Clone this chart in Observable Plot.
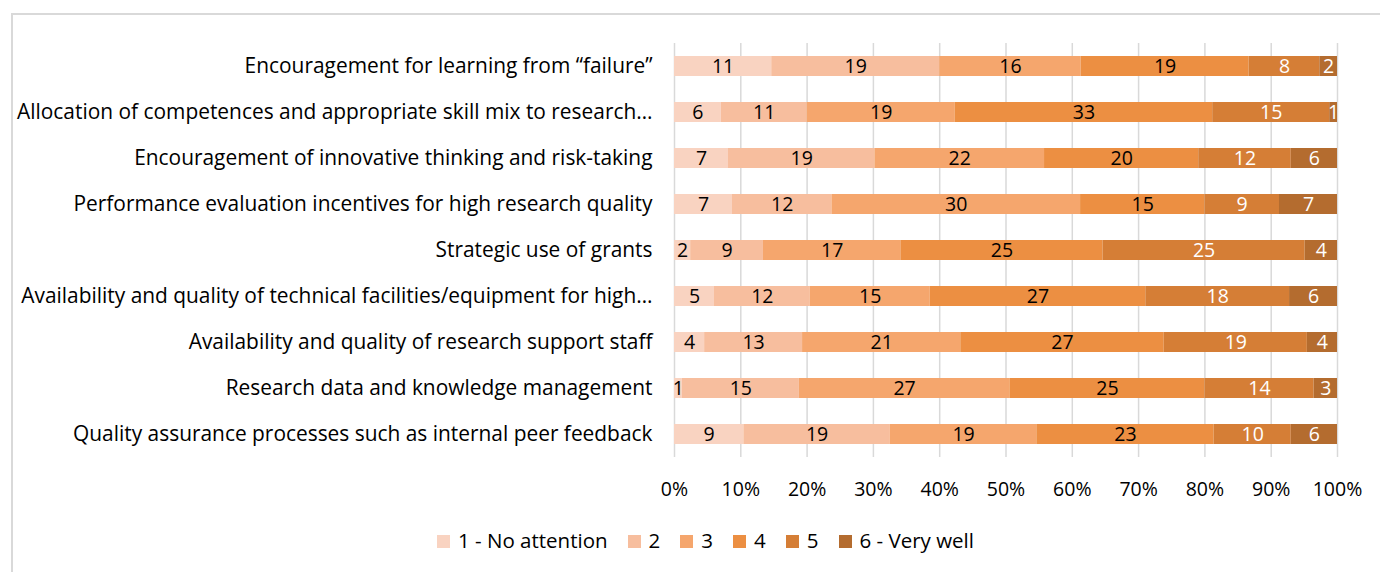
<!DOCTYPE html>
<html><head><meta charset="utf-8">
<script src="https://cdn.jsdelivr.net/npm/d3@7"></script>
<script src="https://cdn.jsdelivr.net/npm/@observablehq/plot@0.6"></script>
<style>
body{margin:0;background:#fff;font-family:"Open Sans",sans-serif;}
#wrap{position:relative;width:1380px;height:572px;overflow:hidden;}
#frame{position:absolute;left:11px;top:13px;width:1400px;height:600px;border-left:2px solid #d9d9d9;border-top:2px solid #d9d9d9;}
#chart{position:absolute;left:0;top:0;}
#legend{position:absolute;top:526px;left:0;width:1411px;text-align:center;font-size:20.5px;color:#000;white-space:nowrap;}
#legend span.item{display:inline-block;margin:0 10px;}
#legend span.sw{display:inline-block;width:13px;height:13px;margin-right:8px;vertical-align:0px;}
</style></head>
<body><div id="wrap"><div id="frame"></div><div id="chart"></div><div id="legend"></div></div>
<script>
const questions = [
  "Encouragement for learning from \u201cfailure\u201d",
  "Allocation of competences and appropriate skill mix to research\u2026",
  "Encouragement of innovative thinking and risk-taking",
  "Performance evaluation incentives for high research quality",
  "Strategic use of grants",
  "Availability and quality of technical facilities/equipment for high\u2026",
  "Availability and quality of research support staff",
  "Research data and knowledge management",
  "Quality assurance processes such as internal peer feedback"
];
const levels = ["1 - No attention", "2", "3", "4", "5", "6 - Very well"];
const levelColors = ["#f9d3c1", "#f7be9e", "#f5a66d", "#ec8f42", "#d57e36", "#b46c2f"];
const level1 = [11, 6, 7, 7, 2, 5, 4, 1, 9];
const level2 = [19, 11, 19, 12, 9, 12, 13, 15, 19];
const level3 = [16, 19, 22, 30, 17, 15, 21, 27, 19];
const level4 = [19, 33, 20, 15, 25, 27, 27, 25, 23];
const level5 = [8, 15, 12, 9, 25, 18, 19, 14, 10];
const level6 = [2, 1, 6, 7, 4, 6, 4, 3, 6];
const ticks = [0, 0.1, 0.2, 0.3, 0.4, 0.5, 0.6, 0.7, 0.8, 0.9, 1];

const series = [level1, level2, level3, level4, level5, level6];
const data = [];
questions.forEach((q, i) => series.forEach((s, j) => data.push({question: q, level: levels[j], li: j, value: s[i]})));

const stackOpts = {x: "value", y: "question", z: "level", order: levels, offset: "normalize"};
const chart = Plot.plot({
  width: 1380, height: 510,
  marginLeft: 674, marginRight: 43, marginTop: 43, marginBottom: 53,
  style: {fontFamily: "Open Sans, sans-serif", fontSize: "19.5px", color: "#000", background: "transparent"},
  x: {domain: [0, 1], ticks: ticks, tickFormat: d => Math.round(d * 100) + "%", tickSize: 0, tickPadding: 25, label: null},
  y: {domain: questions, paddingInner: 0.565, paddingOuter: 0.2825, tickSize: 0, tickPadding: 22, label: null},
  color: {domain: levels, range: levelColors},
  marks: [
    Plot.ruleX(ticks, {stroke: "#d9d9d9", strokeWidth: 1.5}),
    Plot.barX(data, Plot.stackX({...stackOpts, fill: "level"})),
    Plot.textX(data, Plot.stackX({...stackOpts, text: d => d.li < 4 ? d.value : null, fill: "#000", fontSize: 19.5})),
    Plot.textX(data, Plot.stackX({...stackOpts, text: d => d.li >= 4 ? d.value : null, fill: "#fff", fontSize: 19.5})),
    Plot.axisY({tickSize: 0, tickPadding: 22, fontSize: 20.9, label: null})
  ]
});
document.getElementById("chart").appendChild(chart);

const leg = document.getElementById("legend");
levels.forEach((l, j) => {
  const it = document.createElement("span"); it.className = "item";
  const sw = document.createElement("span"); sw.className = "sw"; sw.style.background = levelColors[j];
  it.appendChild(sw); it.appendChild(document.createTextNode(l)); leg.appendChild(it);
});
</script></body></html>
